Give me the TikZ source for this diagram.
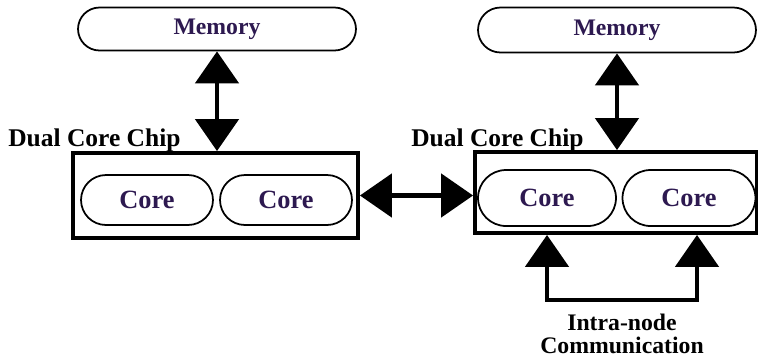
\documentclass[tikz,border=0pt]{standalone}
\usepackage{fontspec}
\setmainfont{Liberation Serif}
\usepackage{tikz}
\usetikzlibrary{positioning,shapes.misc,arrows.meta}
\definecolor{chiptext}{RGB}{45,25,80}

\begin{document}
\begin{tikzpicture}[x=0.02cm, y=-0.02cm,
          pill/.style={draw, line width=1pt, rounded rectangle, inner sep=0pt,
                       font=\fontsize{15}{17}\selectfont\bfseries, text=chiptext},
          chipbox/.style={draw, line width=2.2pt, inner sep=0pt},
          lbl/.style={font=\fontsize{14.5}{17}\selectfont\bfseries, inner sep=0pt},
          arr/.style={{Triangle[width=0.86cm,length=0.64cm]}-{Triangle[width=0.86cm,length=0.64cm]},
                      line width=2.8pt}]
          \useasboundingbox (0,0) rectangle (758,360);
          % left node
          \node[pill, minimum width=5.56cm, minimum height=0.86cm,
                font=\fontsize{13.5}{16}\selectfont\bfseries] (m1) at (217,29) {Memory};
          \node[chipbox, minimum width=5.7cm, minimum height=1.7cm] (c1) at (215.5,195.5) {};
          \node[pill, minimum width=2.64cm, minimum height=1cm] (k1) at (147,200) {Core};
          \node[pill, minimum width=2.64cm, minimum height=1cm] (k2) at (286,200) {Core};
          \node[lbl, anchor=base west] (d1) at (8,146) {Dual Core Chip};
          % right node
          \node[pill, minimum width=5.56cm, minimum height=0.9cm,
                font=\fontsize{13.5}{16}\selectfont\bfseries] (m2) at (617,30) {Memory};
          \node[chipbox, minimum width=5.64cm, minimum height=1.62cm] (c2) at (616,192.5) {};
          \node[pill, minimum width=2.76cm, minimum height=1.12cm] (k3) at (547,198) {Core};
          \node[pill, minimum width=2.66cm, minimum height=1.12cm] (k4) at (689,198) {Core};
          \node[lbl, anchor=base west] (d2) at (411,146) {Dual Core Chip};
          \node[lbl, align=center, font=\fontsize{13.5}{13.5}\selectfont\bfseries] (ic) at (622,334)
               {Intra-node\\Communication};
          \coordinate (bend) at (622,300);
          % links
          \draw[arr] (m1.south) -- (m1.south |- c1.north);
          \draw[arr] (m2.south) -- (m2.south |- c2.north);
          \draw[arr] (c1.east) -- (c1.east -| c2.west);
          \draw[arr] (k3 |- c2.south) -- (k3 |- bend) -- ([xshift=0.16cm]k4 |- bend) -- ([xshift=0.16cm]k4 |- c2.south);
        \end{tikzpicture}
\end{document}
